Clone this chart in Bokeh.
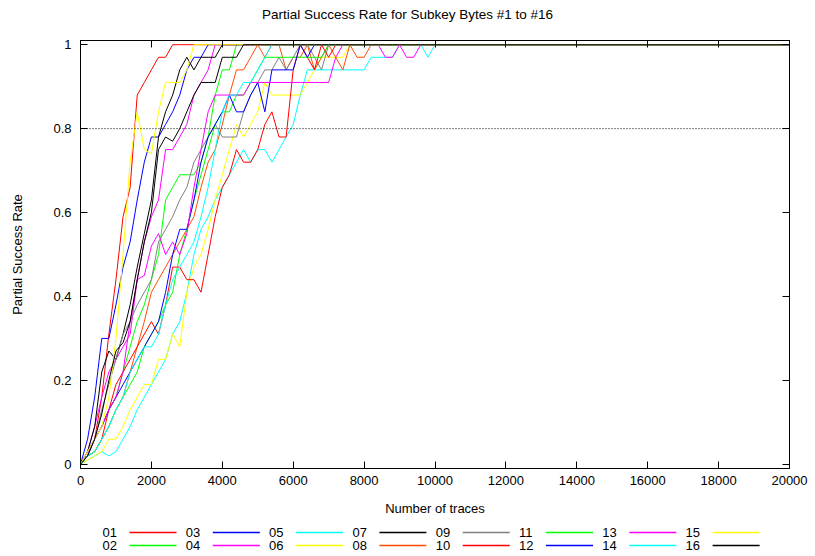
from bokeh.plotting import figure
from bokeh.layouts import column
from bokeh.models import Range1d, FixedTicker, LinearAxis, Span
from bokeh.core.properties import value
from bokeh.embed import file_html
from bokeh.resources import INLINE

# ---------------- data ----------------
traces = [0, 200, 400, 600, 800, 1000, 1200, 1400, 1600, 1800,
          2000, 2200, 2400, 2600, 2800, 3000, 3200, 3400, 3600, 3800,
          4000, 4200, 4400, 4600, 4800, 5000, 5200, 5400, 5600, 5800,
          6000, 6200, 6400, 6600, 6800, 7000, 7200, 7400, 7600, 7800,
          8000, 8200, 8400, 8600, 8800, 9000, 9200, 9400, 9600, 9800,
          10000, 20000]

s01 = [0, 0.03, 0.06, 0.16, 0.31, 0.44, 0.59, 0.66, 0.88, 0.91,
       0.94, 0.97, 0.97, 1, 1, 1, 1, 1, 1, 1,
       1, 1, 1, 1, 1, 1, 1, 1, 1, 1,
       1, 1, 1, 1, 1, 1, 1, 1, 1, 1,
       1, 1, 1, 1, 1, 1, 1, 1, 1, 1,
       1, 1]
s02 = [0, 0.03, 0.06, 0.09, 0.13, 0.16, 0.22, 0.28, 0.34, 0.38,
       0.44, 0.5, 0.63, 0.66, 0.69, 0.69, 0.69, 0.72, 0.78, 0.88,
       0.94, 0.94, 1, 1, 1, 1, 1, 1, 1, 1,
       1, 1, 1, 1, 1, 1, 1, 1, 1, 1,
       1, 1, 1, 1, 1, 1, 1, 1, 1, 1,
       1, 1]
s03 = [0, 0.06, 0.16, 0.3, 0.3, 0.38, 0.47, 0.53, 0.63, 0.72,
       0.78, 0.78, 0.81, 0.84, 0.88, 0.94, 0.97, 0.97, 1, 1,
       1, 1, 1, 1, 1, 1, 1, 1, 1, 1,
       1, 1, 1, 1, 1, 1, 1, 1, 1, 1,
       1, 1, 1, 1, 1, 1, 1, 1, 1, 1,
       1, 1]
s04 = [0, 0.03, 0.09, 0.16, 0.22, 0.25, 0.28, 0.31, 0.44, 0.53,
       0.59, 0.63, 0.75, 0.75, 0.78, 0.81, 0.88, 0.91, 0.94, 1,
       1, 1, 1, 1, 1, 1, 1, 1, 1, 1,
       1, 1, 1, 1, 1, 1, 1, 1, 1, 1,
       1, 1, 1, 1, 1, 1, 1, 1, 1, 1,
       1, 1]
s05 = [0, 0.01, 0.02, 0.03, 0.02, 0.03, 0.06, 0.09, 0.13, 0.16,
       0.19, 0.22, 0.25, 0.31, 0.34, 0.41, 0.5, 0.56, 0.59, 0.63,
       0.66, 0.69, 0.72, 0.75, 0.72, 0.75, 0.75, 0.72, 0.75, 0.78,
       0.81, 0.88, 0.94, 0.94, 0.94, 0.94, 0.94, 0.94, 0.94, 0.94,
       0.94, 0.97, 0.97, 0.97, 0.97, 1, 1, 1, 1, 0.97,
       1, 1]
s06 = [0, 0.01, 0.02, 0.03, 0.06, 0.06, 0.09, 0.13, 0.16, 0.19,
       0.19, 0.25, 0.25, 0.31, 0.28, 0.41, 0.47, 0.5, 0.56, 0.63,
       0.69, 0.75, 0.81, 0.78, 0.81, 0.84, 0.91, 0.88, 0.88, 0.88,
       0.88, 0.88, 0.91, 0.94, 0.97, 0.97, 0.97, 0.97, 1, 1,
       1, 1, 1, 1, 1, 1, 1, 1, 1, 1,
       1, 1]
s07 = [0, 0.03, 0.09, 0.22, 0.27, 0.25, 0.31, 0.38, 0.47, 0.55,
       0.63, 0.78, 0.84, 0.88, 0.94, 0.97, 0.94, 0.97, 0.97, 0.97,
       1, 1, 1, 1, 1, 1, 1, 1, 1, 1,
       1, 1, 1, 1, 1, 1, 1, 1, 1, 1,
       1, 1, 1, 1, 1, 1, 1, 1, 1, 1,
       1, 1]
s08 = [0, 0.02, 0.03, 0.06, 0.09, 0.13, 0.16, 0.22, 0.28, 0.34,
       0.41, 0.44, 0.47, 0.5, 0.53, 0.56, 0.59, 0.66, 0.72, 0.75,
       0.81, 0.88, 0.94, 0.94, 0.97, 1, 0.97, 1, 1, 0.94,
       0.97, 0.97, 1, 0.94, 0.97, 1, 0.97, 0.94, 1, 0.97,
       0.97, 1, 1, 1, 1, 1, 1, 1, 1, 1,
       1, 1]
s09 = [0, 0.03, 0.06, 0.13, 0.19, 0.25, 0.31, 0.34, 0.38, 0.41,
       0.44, 0.53, 0.56, 0.59, 0.63, 0.66, 0.72, 0.75, 0.78, 0.81,
       0.78, 0.78, 0.78, 0.84, 0.88, 0.91, 0.94, 0.94, 0.97, 0.94,
       0.97, 1, 1, 0.97, 0.94, 1, 1, 1, 1, 1,
       1, 1, 1, 1, 1, 1, 1, 1, 1, 1,
       1, 1]
s10 = [0, 0.02, 0.03, 0.06, 0.13, 0.19, 0.22, 0.25, 0.28, 0.31,
       0.34, 0.31, 0.38, 0.47, 0.47, 0.44, 0.44, 0.41, 0.5, 0.59,
       0.66, 0.69, 0.75, 0.72, 0.72, 0.75, 0.81, 0.84, 0.78, 0.78,
       0.94, 1, 0.97, 0.94, 1, 0.97, 1, 1, 1, 1,
       1, 1, 1, 1, 1, 1, 1, 1, 1, 1,
       1, 1]
s11 = [0, 0.02, 0.03, 0.06, 0.09, 0.13, 0.16, 0.19, 0.22, 0.28,
       0.31, 0.34, 0.38, 0.41, 0.5, 0.56, 0.63, 0.69, 0.75, 0.81,
       0.84, 0.84, 0.88, 0.88, 0.91, 0.94, 0.97, 0.97, 0.97, 0.97,
       0.97, 0.97, 0.97, 0.97, 0.97, 1, 1, 1, 1, 1,
       1, 1, 1, 1, 1, 1, 1, 1, 1, 1,
       1, 1]
s12 = [0, 0.02, 0.06, 0.09, 0.13, 0.16, 0.19, 0.22, 0.25, 0.28,
       0.31, 0.34, 0.41, 0.5, 0.56, 0.56, 0.63, 0.72, 0.78, 0.81,
       0.84, 0.88, 0.84, 0.84, 0.88, 0.91, 0.84, 0.94, 0.94, 0.94,
       0.94, 1, 0.97, 1, 1, 1, 1, 1, 1, 1,
       1, 1, 1, 1, 1, 1, 1, 1, 1, 1,
       1, 1]
s13 = [0, 0.03, 0.06, 0.09, 0.13, 0.16, 0.22, 0.34, 0.44, 0.45,
       0.52, 0.55, 0.5, 0.53, 0.5, 0.55, 0.66, 0.75, 0.84, 0.88,
       0.88, 0.88, 0.88, 0.88, 0.91, 0.91, 0.91, 0.91, 0.91, 0.91,
       0.91, 0.91, 0.91, 0.91, 0.91, 0.91, 0.97, 1, 1, 1,
       1, 1, 1, 0.97, 0.97, 1, 0.97, 0.97, 1, 1,
       1, 1]
s14 = [0, 0.02, 0.03, 0.06, 0.09, 0.13, 0.16, 0.22, 0.25, 0.28,
       0.28, 0.31, 0.38, 0.44, 0.47, 0.5, 0.53, 0.59, 0.66, 0.75,
       0.84, 0.88, 0.88, 0.91, 0.91, 0.94, 0.97, 1, 1, 1,
       1, 1, 1, 1, 1, 1, 1, 1, 1, 1,
       1, 1, 1, 1, 1, 1, 1, 1, 1, 1,
       1, 1]
s15 = [0, 0.03, 0.06, 0.09, 0.16, 0.3, 0.5, 0.72, 0.84, 0.75,
       0.74, 0.84, 0.91, 0.91, 0.91, 0.94, 1, 1, 1, 1,
       1, 1, 1, 1, 1, 1, 1, 1, 1, 1,
       1, 1, 1, 1, 1, 1, 1, 1, 1, 1,
       1, 1, 1, 1, 1, 1, 1, 1, 1, 1,
       1, 1]
s16 = [0, 0.02, 0.06, 0.12, 0.2, 0.27, 0.29, 0.34, 0.44, 0.53,
       0.6, 0.75, 0.78, 0.77, 0.8, 0.84, 0.88, 0.91, 0.91, 0.91,
       0.97, 0.97, 0.97, 1, 1, 1, 1, 1, 1, 1,
       1, 1, 1, 1, 1, 1, 1, 1, 1, 1,
       1, 1, 1, 1, 1, 1, 1, 1, 1, 1,
       1, 1]

series = [s01, s02, s03, s04, s05, s06, s07, s08,
          s09, s10, s11, s12, s13, s14, s15, s16]
names = ["01", "02", "03", "04", "05", "06", "07", "08",
         "09", "10", "11", "12", "13", "14", "15", "16"]
colors = ["#ff0000", "#00ff00", "#0000ff", "#ff00ff", "#00ffff", "#ffff00",
          "#000000", "#ff4d00", "#808080",
          "#ff0000", "#00ff00", "#0000ff", "#ff00ff", "#00ffff", "#ffff00",
          "#000000"]

x_ticks = [0, 2000, 4000, 6000, 8000, 10000, 12000, 14000, 16000, 18000, 20000]
y_ticks = [0, 0.2, 0.4, 0.6, 0.8, 1]
threshold = 0.8
title_text = "Partial Success Rate for Subkey Bytes #1 to #16"

FONT = "Liberation Sans"
FS = "13px"
W = 814
FRAME_L, FRAME_R = 80, 789          # page pixels of the plot frame (for the aligned strips)

# ---------------- title strip ----------------
TITLE_H = 26
ttl = figure(width=W, height=TITLE_H, output_backend="svg", toolbar_location=None,
             x_range=Range1d(FRAME_L, FRAME_R), y_range=Range1d(TITLE_H, 0),
             min_border=0, outline_line_color=None)
ttl.axis.visible = False
ttl.grid.visible = False
ttl.text(x=[W / 2], y=[14], text=[title_text], text_align="center",
         text_baseline="middle", text_font=value(FONT),
         text_font_size=value("13.5px"), text_color="black")

# ---------------- main plot ----------------
p = figure(width=W, height=494, output_backend="svg", toolbar_location=None,
           x_range=Range1d(0, 20000), y_range=Range1d(-0.01, 1.01),
           min_border_left=80, min_border_right=25, min_border_top=14,
           min_border_bottom=52)

p.grid.visible = False
p.outline_line_color = "black"
p.outline_line_width = 1
p.background_fill_color = "white"
p.border_fill_color = "white"

for ax in (p.xaxis[0], p.yaxis[0]):
    ax.major_tick_in = 7
    ax.major_tick_out = 0
    ax.minor_tick_line_color = None
    ax.axis_line_color = "black"
    ax.major_tick_line_color = "black"
    ax.major_label_text_font = FONT
    ax.major_label_text_font_size = FS
    ax.major_label_text_color = "black"
    ax.axis_label_text_font = FONT
    ax.axis_label_text_font_size = FS
    ax.axis_label_text_font_style = "normal"
    ax.axis_label_text_color = "black"

p.xaxis.ticker = FixedTicker(ticks=x_ticks)
p.yaxis.ticker = FixedTicker(ticks=y_ticks)
p.yaxis.major_label_overrides = {0: "0", 1: "1"}
p.xaxis.axis_label = "Number of traces"
p.yaxis.axis_label = "Partial Success Rate"
p.xaxis.major_label_standoff = 7
p.xaxis.axis_label_standoff = 13
p.yaxis.major_label_standoff = 9
p.yaxis.axis_label_standoff = 25

# mirrored ticks on top and right (labels not painted)
top_ax = LinearAxis(ticker=FixedTicker(ticks=x_ticks), major_tick_in=7, major_tick_out=0,
                    minor_tick_line_color=None, major_label_text_font_size="1px",
                    major_label_text_color=None, major_label_standoff=0,
                    axis_line_color="black")
right_ax = LinearAxis(ticker=FixedTicker(ticks=y_ticks), major_tick_in=7, major_tick_out=0,
                      minor_tick_line_color=None, major_label_text_font_size="1px",
                      major_label_text_color=None, major_label_standoff=0,
                      axis_line_color="black")
p.add_layout(top_ax, "above")
p.add_layout(right_ax, "right")

p.add_layout(Span(location=threshold, dimension="width", line_color="black",
                  line_width=1, line_dash="1 2"))

for name, s, c in zip(names, series, colors):
    p.line(traces, s, line_color=c, line_width=1)

# ---------------- key strip (label then line sample, 2 rows x 8 columns) ----------------
KEY_H = 35
KEY_X0 = 102      # page x of first label
KEY_PITCH = 83.3  # column pitch (px)
KEY_LINE_OFF = 27 # label start -> line start
KEY_LINE_LEN = 47
KEY_ROW_Y = [12, 25]

leg = figure(width=W, height=KEY_H, output_backend="svg", toolbar_location=None,
             x_range=Range1d(FRAME_L, FRAME_R), y_range=Range1d(KEY_H, 0),
             min_border=0, outline_line_color=None)
leg.axis.visible = False
leg.grid.visible = False

cols = [i // 2 for i in range(len(names))]
rows = [i % 2 for i in range(len(names))]
lab_x = [KEY_X0 + c * KEY_PITCH for c in cols]
lab_y = [KEY_ROW_Y[r] for r in rows]
seg_x0 = [x + KEY_LINE_OFF for x in lab_x]
seg_x1 = [x + KEY_LINE_OFF + KEY_LINE_LEN for x in lab_x]

leg.segment(x0=seg_x0, y0=lab_y, x1=seg_x1, y1=lab_y, line_color=colors,
            line_width=1.3)
leg.text(x=lab_x, y=lab_y, text=names, text_align="left", text_baseline="middle",
         text_font=value(FONT), text_font_size=value(FS), text_color="black")

layout = column(ttl, p, leg, spacing=0)
open("out.html", "w").write(file_html(layout, INLINE))
